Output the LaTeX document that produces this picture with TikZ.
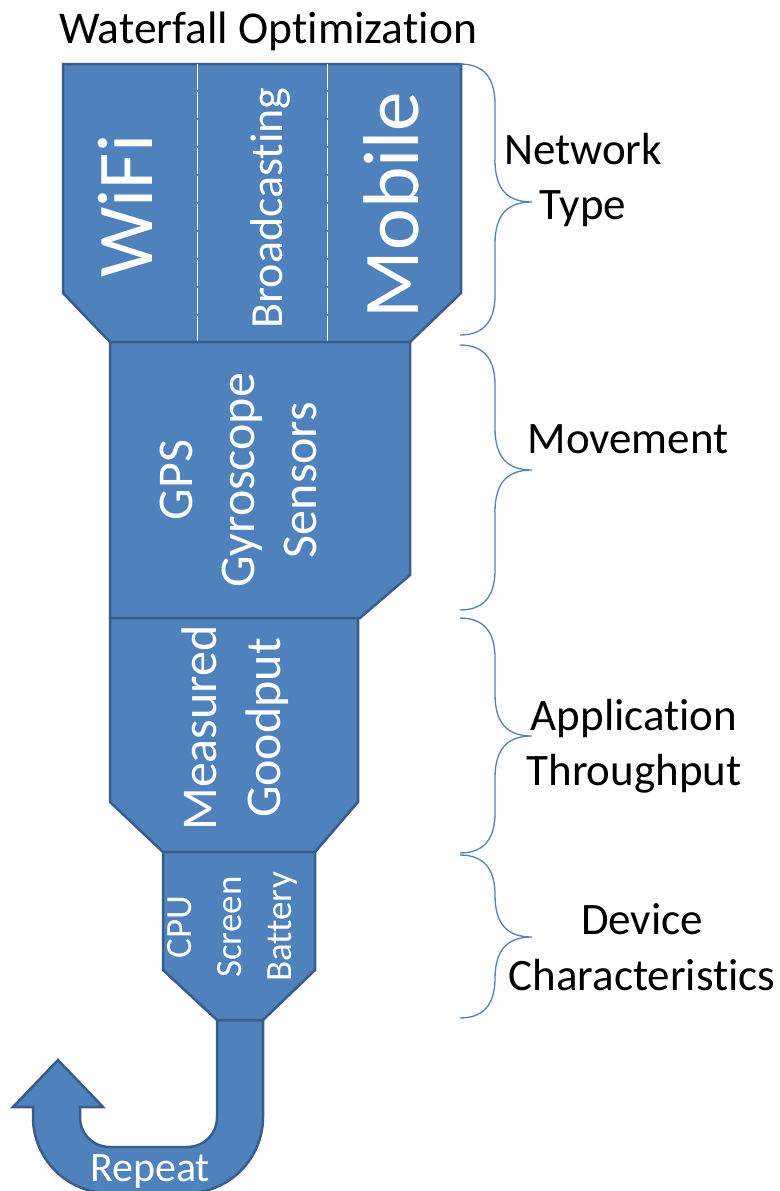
\documentclass[tikz,border=0pt]{standalone}
\usepackage{fontspec}
\setmainfont{Carlito}[Ligatures=NoCommon]
\definecolor{fillb}{HTML}{4F81BD}
\definecolor{edgeb}{HTML}{385D8A}
\begin{document}
\begin{tikzpicture}[x=1pt,y=-1pt,
  stage/.style={fill=fillb,draw=edgeb,line width=2.5pt,line join=miter},
  intext/.style={text=white,inner sep=0pt,rotate=90,align=center},
  lab/.style={text=black,align=center,inner sep=0pt},
  bracepath/.style={draw=fillb,line width=1.3pt},
  sepline/.style={draw=white,line width=0.8pt,dash pattern=on 26pt off 2pt}]
\path[use as bounding box] (0,0) rectangle (779,1191);

% title
\node[lab,anchor=base,font=\fontsize{45.5}{55}\selectfont] (title) at (268,43) {Waterfall Optimization};

% repeat arrow (U-turn)
\path[stage] (217,1020) -- (263,1020) -- (263,1117)
  .. controls (263,1159) and (229,1193) .. (187,1193)
  -- (109,1193) .. controls (67,1193) and (33,1159) .. (33,1117)
  -- (33,1107) -- (13,1107) -- (58,1060) -- (103,1107) -- (80,1107) -- (80,1117)
  .. controls (80,1134) and (93,1147) .. (110,1147)
  -- (187,1147) .. controls (204,1147) and (217,1134) .. (217,1117) -- cycle;
\node[text=white,inner sep=0pt,anchor=base,font=\fontsize{42}{50}\selectfont] (repeat) at (150,1181) {Repeat};

% stages
\path[stage] (63,64) -- (461,64) -- (461,293) -- (410,342) -- (110,342) -- (63,293) -- cycle;
\path[sepline] (197,64) -- (197,342);
\path[sepline] (327,64) -- (327,342);
\path[stage] (110,342) -- (410,342) -- (410,575) -- (360,618) -- (110,618) -- cycle;
\path[stage] (110,618) -- (358,618) -- (358,802) -- (315,852) -- (163,852) -- (110,802) -- cycle;
\path[stage] (163,852) -- (315,852) -- (315,970) -- (263,1020) -- (217,1020) -- (163,970) -- cycle;

% texts inside
\node[intext,anchor=base,font=\fontsize{79}{95}\selectfont] (wifi) at (152,206) {WiFi};
\node[intext,anchor=base,font=\fontsize{46}{56}\selectfont] (bcast) at (282,208) {Broadcasting};
\node[intext,anchor=base,font=\fontsize{79}{95}\selectfont] (mobile) at (418,205) {Mobile};
\node[intext,font=\fontsize{50}{62}\selectfont] (move) at (238,480) {GPS\\Gyroscope\\Sensors};
\node[intext,font=\fontsize{50}{64}\selectfont] (tput) at (235,728) {Measured\\Goodput};
\node[intext,font=\fontsize{37}{50}\selectfont] (dev) at (232,927) {CPU\\Screen\\Battery};

% braces
\foreach \t/\m/\b in {64/202/335, 345/470/610, 618/736/853, 855/937/1018}{
  \path[bracepath] (460,\t) .. controls (487,\t) and (495,\t+18) .. (495,\t+40)
    -- (495,\m-42) .. controls (495,\m-12) and (508,\m) .. (532,\m)
    .. controls (508,\m) and (495,\m+12) .. (495,\m+42)
    -- (495,\b-40) .. controls (495,\b-18) and (487,\b) .. (460,\b);
}

% labels
\node[lab,font=\fontsize{45}{55}\selectfont] (lnet) at (583,180) {Network\\Type};
\node[lab,anchor=base,font=\fontsize{45}{55}\selectfont] (lmove) at (628,453) {Movement};
\node[lab,font=\fontsize{45}{55}\selectfont] (lapp) at (634,746) {Application\\Throughput};
\node[lab,font=\fontsize{45}{56}\selectfont] (ldev) at (642,947) {Device\\Characteristics};
\end{tikzpicture}
\end{document}
